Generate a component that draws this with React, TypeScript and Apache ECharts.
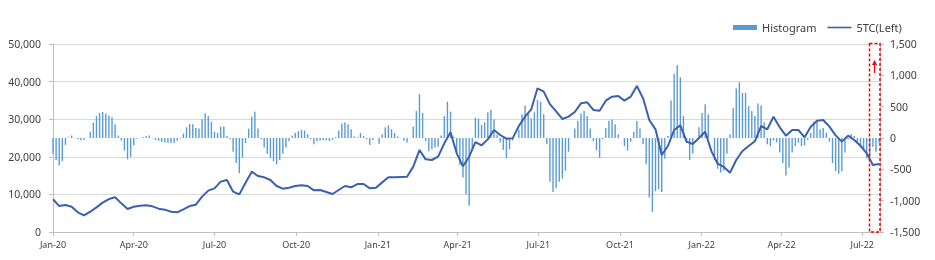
import React, { useEffect, useRef } from "react";
import * as echarts from "echarts";

// Sampling grid (days from 2020-01-01)
const startDate = "2020-01-01";
const lineStepDays = 7;
const histStepDays = 3.5;

// 5TC (left axis), weekly
const tcValues = [
  8700, 6900, 7180, 6730, 5230, 4430, 5400, 6560, 7800, 8770,
  9240, 7620, 6120, 6730, 7000, 7090, 6820, 6200, 5940, 5400,
  5230, 6030, 6910, 7270, 9400, 11000, 11600, 13390, 13830, 10720,
  10000, 13120, 16050, 14900, 14540, 13830, 12230, 11530, 11790, 12230,
  12410, 12230, 11080, 11170, 10640, 10100, 11170, 12230, 11880, 12760,
  12760, 11610, 11790, 13200, 14540, 14540, 14630, 14720, 17380, 21800,
  19330, 19150, 20030, 23580, 26500, 20920, 17470, 20030, 23930, 23050,
  24640, 27130, 25800, 24820, 24910, 28190, 30680, 32630, 38210, 37330,
  34000, 32090, 30060, 30680, 31910, 34220, 34490, 32450, 32270, 34930,
  36000, 36170, 34930, 36000, 38830, 35550, 29790, 27300, 20480, 22870,
  27130, 28370, 24030, 23400, 25000, 26680, 21500, 18170, 17290, 15780,
  19150, 21540, 22870, 24120, 28190, 27310, 30680, 27840, 25620, 27130,
  27130, 25180, 28010, 29610, 29790, 28010, 25710, 24030, 25620, 24470,
  22960, 20920, 17820, 18080,
];

// Histogram (right axis), twice weekly
const histValues = [
  -250, -350, -436, -370, -110, 10, 40, 5, -15, -35,
  -30, 5, 100, 245, 350, 400, 415, 390, 360, 330,
  220, 40, -40, -200, -340, -300, -120, -10, 5, 15,
  30, 40, -5, -30, -45, -64, -70, -74, -74, -74,
  -45, -10, 70, 170, 222, 220, 160, 150, 300, 394,
  351, 260, 100, 80, 180, 185, 30, -20, -220, -400,
  -560, -310, -80, 150, 340, 420, 150, -20, -150, -250,
  -320, -370, -420, -350, -250, -150, -50, 40, 85, 110,
  130, 120, 60, -20, -100, -50, -40, -37, -37, -50,
  -30, 15, 120, 230, 250, 220, 140, 25, 10, 80,
  30, -20, -110, -30, 0, -90, 60, 170, 200, 140,
  80, 25, -5, -45, -70, -5, 180, 430, 700, 400,
  -50, -210, -180, -150, -140, 40, 350, 580, 420, 20,
  -230, -430, -630, -900, -1080, -200, 325, 310, 210, 250,
  410, 450, 300, 50, -70, -190, -320, -180, -40, 0,
  130, 380, 520, 390, 310, 410, 610, 580, 380, -100,
  -700, -860, -800, -700, -650, -520, -220, 0, 150, 270,
  390, 430, 350, 150, -50, -200, -320, -20, 160, 275,
  295, 218, 60, 0, -130, -200, -60, 100, 270, 150,
  -100, -420, -950, -1180, -850, -820, -860, -330, 30, 600,
  1020, 1160, 970, 350, -80, -350, -250, 0, 170, 400,
  537, 380, 0, -350, -490, -550, -520, -250, 60, 480,
  790, 890, 720, 720, 510, 430, 350, 550, 520, 250,
  -100, -130, -40, -70, -230, -400, -600, -470, -230, -128,
  -75, -130, -120, -30, 80, 260, 270, 140, 160, 85,
  -60, -400, -530, -570, -530, -230, -20, 65, 30, -90,
  -150, -190, -320, -300, -140, -220, -80,
];

const quarterTicks = [
  "2020-01-01", "2020-04-01", "2020-07-01", "2020-10-01",
  "2021-01-01", "2021-04-01", "2021-07-01", "2021-10-01",
  "2022-01-01", "2022-04-01", "2022-07-01",
];
const axisEnd = "2022-07-21";
const monthNames = ["Jan", "Feb", "Mar", "Apr", "May", "Jun", "Jul", "Aug", "Sep", "Oct", "Nov", "Dec"];

const DAY = 86400000;
const parseDay = (s: string) => {
  const [y, m, d] = s.split("-").map(Number);
  return Date.UTC(y, m - 1, d);
};

export default function App() {
  const ref = useRef<HTMLDivElement>(null);
  useEffect(() => {
    if (!ref.current) return;
    const chart = echarts.init(ref.current, undefined, { renderer: "svg" });
    const t0 = parseDay(startDate);
    const toDays = (s: string) => Math.round((parseDay(s) - t0) / DAY);
    const tickDays = quarterTicks.map(toDays);
    const font = "'Noto Sans', sans-serif";
    const fmtNum = (v: number) => v.toLocaleString("en-US");
    chart.setOption({
      animation: false,
      textStyle: { fontFamily: font },
      legend: {
        left: 728,
        top: 17,
        itemWidth: 24,
        itemHeight: 5,
        itemGap: 11,
        textStyle: { fontSize: 11, color: "#404040", fontFamily: font },
        data: [
          { name: "Histogram", icon: "rect", itemStyle: { color: "#5B9BD5" } },
          { name: "5TC(Left)", icon: "path://M0 0H24V1.6H0Z" },
        ],
      },
      grid: { left: 53, right: 55, top: 44, bottom: 28, containLabel: false },
      xAxis: {
        type: "value",
        min: 0,
        max: toDays(axisEnd),
        axisLine: { show: true, lineStyle: { color: "#BFBFBF" } },
        axisTick: { show: true, length: 4, lineStyle: { color: "#BFBFBF" }, customValues: tickDays },
        axisLabel: {
          customValues: tickDays,
          fontSize: 9,
          color: "#404040",
          margin: 8,
          fontFamily: font,
          formatter: (v: number) => {
            const d = new Date(t0 + v * DAY);
            return `${monthNames[d.getUTCMonth()]}-${String(d.getUTCFullYear()).slice(2)}`;
          },
        },
        splitLine: { show: false },
      },
      yAxis: [
        {
          type: "value",
          min: 0,
          max: 50000,
          interval: 10000,
          axisLine: { show: true, lineStyle: { color: "#BFBFBF" } },
          axisTick: { show: true, length: 4, lineStyle: { color: "#BFBFBF" } },
          axisLabel: { fontSize: 10.5, color: "#404040", margin: 12, formatter: fmtNum, fontFamily: font },
          splitLine: { show: true, lineStyle: { color: "#D9D9D9", width: 1 } },
        },
        {
          type: "value",
          min: -1500,
          max: 1500,
          interval: 500,
          position: "right",
          axisLine: { show: true, lineStyle: { color: "#BFBFBF" } },
          axisTick: { show: true, length: 4, lineStyle: { color: "#BFBFBF" } },
          axisLabel: { fontSize: 10.5, color: "#404040", margin: 10, formatter: fmtNum, fontFamily: font },
          splitLine: { show: false },
        },
      ],
      series: [
        {
          name: "Histogram",
          type: "bar",
          yAxisIndex: 1,
          barWidth: 1.4,
          itemStyle: { color: "#5B9BD5" },
          data: histValues.map((v, i) => [i * histStepDays, v]),
        },
        {
          name: "5TC(Left)",
          type: "line",
          yAxisIndex: 0,
          showSymbol: false,
          symbol: "none",
          lineStyle: { color: "#3B60B0", width: 2 },
          itemStyle: { color: "#3B60B0" },
          data: tcValues.map((v, i) => [i * lineStepDays, v]),
          z: 3,
        },
      ],
      graphic: [
        {
          type: "rect",
          shape: { x: 869.5, y: 43.5, width: 10.5, height: 188.5 },
          style: { fill: "none", stroke: "#FF0000", lineWidth: 1.5, lineDash: [3, 2] },
          z: 10,
        },
        {
          type: "line",
          shape: { x1: 874.5, y1: 73, x2: 874.5, y2: 63 },
          style: { stroke: "#FF0000", lineWidth: 1.2 },
          z: 10,
        },
        {
          type: "polygon",
          shape: { points: [[872, 65], [877, 65], [874.5, 60]] },
          style: { fill: "#FF0000" },
          z: 10,
        },
      ],
    });
    return () => chart.dispose();
  }, []);
  return (
    <div
      ref={ref}
      style={{ position: "fixed", left: 0, top: 0, width: 935, height: 260 }}
    />
  );
}
